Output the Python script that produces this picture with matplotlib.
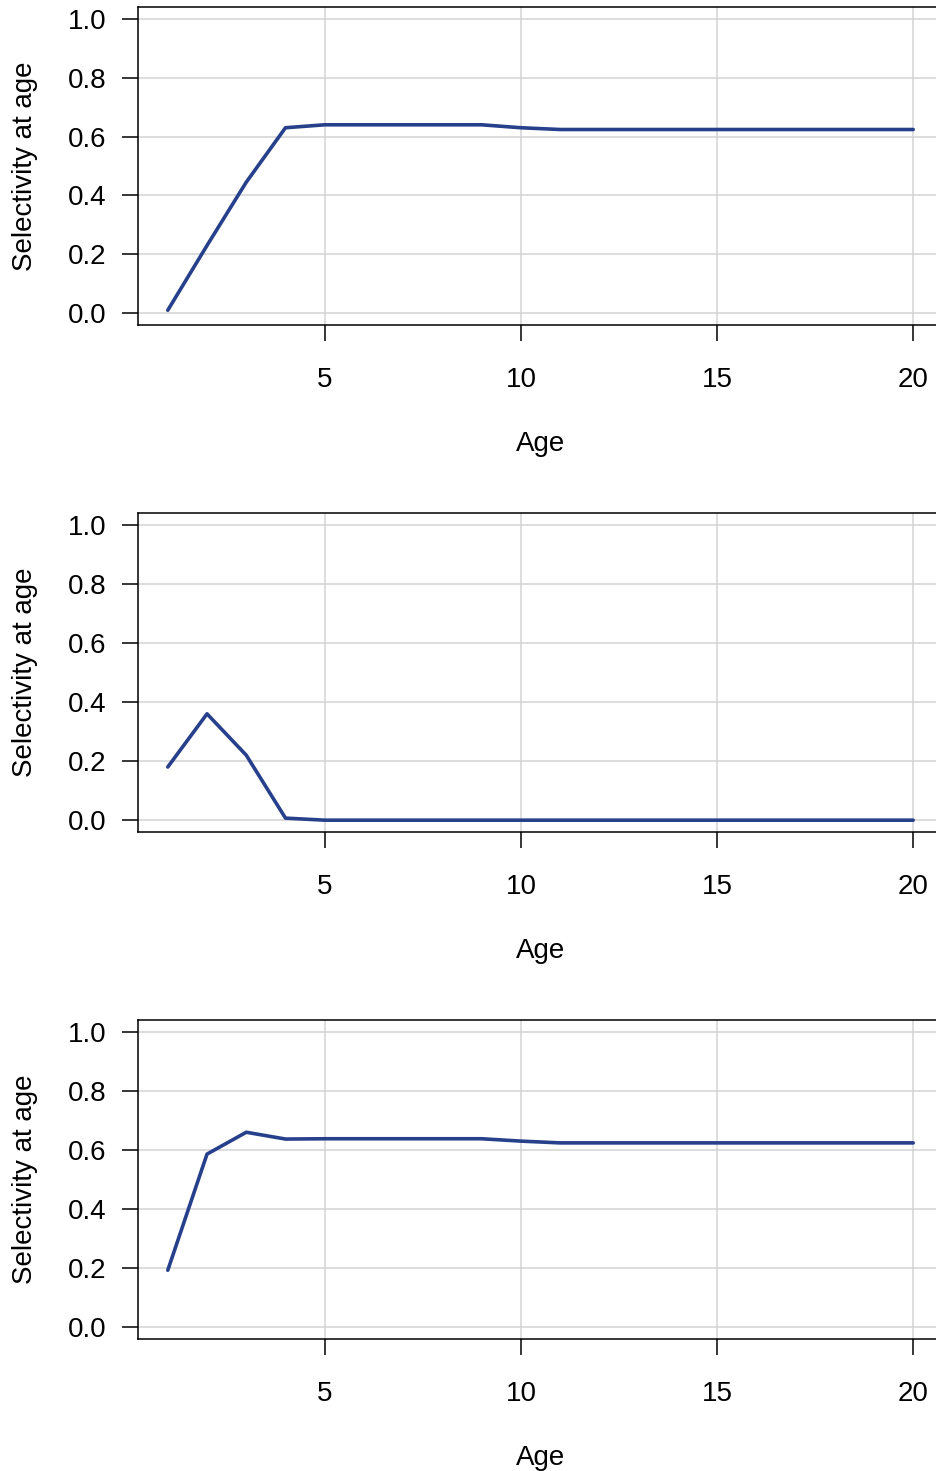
import numpy as np
import matplotlib.pyplot as plt

plt.rcParams["font.family"] = ["Liberation Sans", "DejaVu Sans"]

# ages and selectivity curves (one per panel)
ages = np.arange(1, 21)
sel_top = [0.01, 0.23, 0.445, 0.63, 0.64, 0.64, 0.64, 0.64, 0.64, 0.63,
           0.624, 0.624, 0.624, 0.624, 0.624, 0.624, 0.624, 0.624, 0.624, 0.624]
sel_mid = [0.18, 0.36, 0.22, 0.007, 0.0, 0.0, 0.0, 0.0, 0.0, 0.0,
           0.0, 0.0, 0.0, 0.0, 0.0, 0.0, 0.0, 0.0, 0.0, 0.0]
sel_bot = [0.193, 0.586, 0.66, 0.637, 0.638, 0.638, 0.638, 0.638, 0.638, 0.63,
           0.624, 0.624, 0.624, 0.624, 0.624, 0.624, 0.624, 0.624, 0.624, 0.624]
panels = [sel_top, sel_mid, sel_bot]

xticks = [5, 10, 15, 20]
yticks = [0.0, 0.2, 0.4, 0.6, 0.8, 1.0]

fig = plt.figure(figsize=(9.36, 14.71), dpi=100)

# axes boxes (the right side runs past the figure edge, like the original)
boxes = [(0.1474, 0.7791, 0.8601, 0.2161),
         (0.1474, 0.4344, 0.8601, 0.2169),
         (0.1474, 0.0897, 0.8601, 0.2169)]

for sel, box in zip(panels, boxes):
    ax = fig.add_axes(box)
    ax.plot(ages, sel, color="#27408B", lw=2.6, solid_capstyle="round")

    ax.set_xlim(0.24, 20.76)
    ax.set_ylim(-0.04, 1.04)
    ax.set_xticks(xticks)
    ax.set_yticks(yticks)
    ax.set_yticklabels([f"{v:.1f}" for v in yticks])
    ax.grid(True, color="#D3D3D3", lw=1.1)
    ax.set_axisbelow(True)

    for sp in ax.spines.values():
        sp.set_linewidth(1.1)
        sp.set_color("black")
    ax.tick_params(axis="both", direction="out", length=11.5, width=1.1,
                   labelsize=20, color="black")
    ax.tick_params(axis="x", pad=18.5)
    ax.tick_params(axis="y", pad=11)

    ax.set_xlabel("Age", fontsize=20, labelpad=27.5)
    ax.set_ylabel("Selectivity at age", fontsize=20, labelpad=22)

plt.savefig("out.png", dpi=100)
